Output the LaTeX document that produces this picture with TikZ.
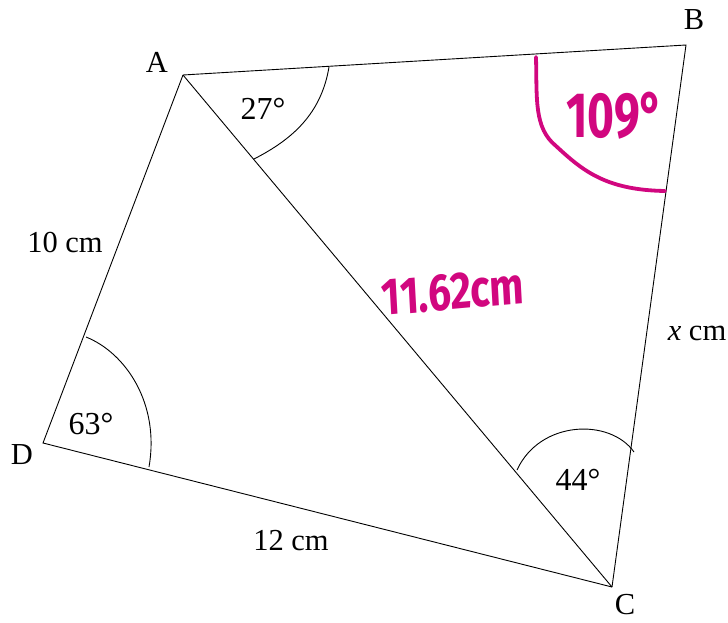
\documentclass[tikz,border=0pt]{standalone}
\usepackage{fontspec}
\setmainfont{Liberation Serif}
\newfontfamily\handfont{Fira Sans}
\definecolor{inkpink}{HTML}{D1077F}
\begin{document}
\begin{tikzpicture}[x=1pt,y=-1pt,
    lbl/.style={inner sep=0pt, font=\fontsize{30.5}{30.5}\selectfont},
    ang/.style={inner sep=0pt, font=\fontsize{32}{32}\selectfont},
    hand/.style={inner sep=0pt, text=inkpink},
    edge/.style={black, line width=0.9pt},
    marc/.style={black, line width=0.9pt},
    pen/.style={inkpink, line width=3.8pt, line cap=round, line join=round}]
  \useasboundingbox (0,0) rectangle (728,623);
  % Corners
  \coordinate (A) at (183,75);
  \coordinate (B) at (686,45);
  \coordinate (C) at (612,587);
  \coordinate (D) at (43,443);
  % Sides and diagonal
  \draw[edge] (A) -- (D) -- (C);
  \draw[edge] (C) -- (B) -- (A);
  \draw[edge] (A) -- (C);
  % Angle marks
  \coordinate (a1) at (329,67);
  \coordinate (a2) at (254,159);
  \draw[marc] (a1) .. controls (321,115) and (291,140) .. (a2);
  \coordinate (d1) at (86,337);
  \coordinate (d2) at (149,467);
  \draw[marc] (d1) .. controls (126,353) and (160,404) .. (d2);
  \coordinate (c1) at (517,470);
  \coordinate (c2) at (634,452);
  \draw[marc] (c1) .. controls (540,420) and (610,418) .. (c2);
  % Vertex labels
  \node[lbl] (lA) at (157,62) {A};
  \node[lbl] (lB) at (694,20) {B};
  \node[lbl] (lC) at (625,605) {C};
  \node[lbl] (lD) at (22,455) {D};
  % Side labels
  \node[lbl] (s1) at (65,243) {10 cm};
  \node[lbl] (s2) at (291,541) {12 cm};
  \node[lbl] (s3) at (697,333) {\textit{x} cm};
  % Angle labels
  \node[ang] (t1) at (263,109) {27°};
  \node[ang] (t2) at (91,424) {63°};
  \node[ang] (t3) at (578,480) {44°};
  % Pencilled in
  \coordinate (b1) at (536,57);
  \coordinate (b2) at (665,191);
  \draw[pen] (b1) .. controls (537,100) and (534,128) .. (556,146)
    .. controls (582,170) and (605,190) .. (b2);
  \node[hand, font=\handfont\bfseries\fontsize{64}{64}\selectfont, xscale=0.72, transform shape]
    (h1) at (615,116) {109°};
  \node[hand, font=\handfont\bfseries\fontsize{52}{52}\selectfont, xscale=0.78, rotate=4, transform shape]
    (h2) at (453,292) {11.62cm};
\end{tikzpicture}
\end{document}
